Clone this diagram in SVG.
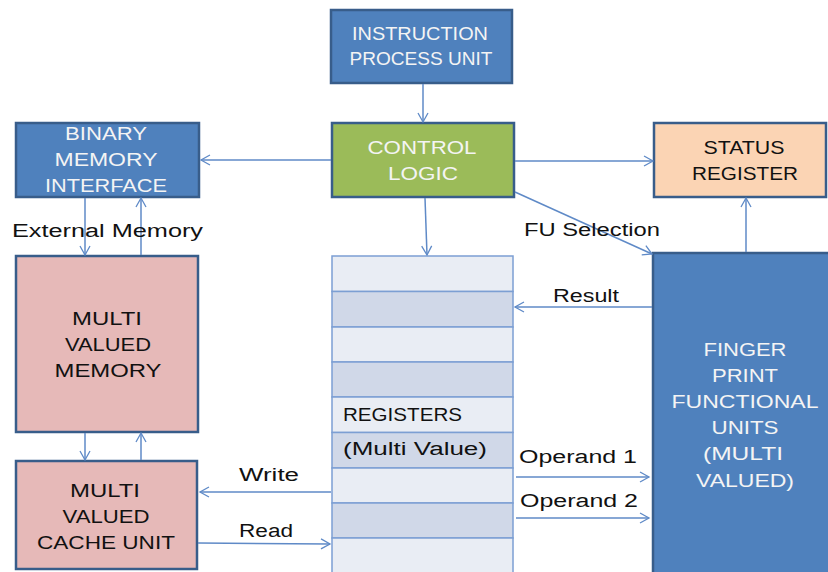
<svg xmlns="http://www.w3.org/2000/svg" width="828" height="572" viewBox="0 0 828 572">
<defs>
<marker id="ah" markerWidth="12" markerHeight="12" refX="10" refY="6" orient="auto" markerUnits="userSpaceOnUse">
<polyline points="1,1 10,6 1,11" fill="none" stroke="#5f8ac7" stroke-width="1.3"/>
</marker>
<style>
.blue{fill:#4f81bd;stroke:#385d8a;stroke-width:2.5}
.green{fill:#9bbb59;stroke:#385d8a;stroke-width:2.5}
.peach{fill:#fbd4b4;stroke:#385d8a;stroke-width:2.5}
.pink{fill:#e6b9b8;stroke:#385d8a;stroke-width:2.5}
.r1{fill:#e9edf4;stroke:#7c9fd3;stroke-width:1.5}
.r2{fill:#d0d8e8;stroke:#7c9fd3;stroke-width:1.5}
.wt{font-family:"Liberation Sans",Arial,sans-serif;font-size:18px;fill:#f4f4f4;text-anchor:middle}
.bt{font-family:"Liberation Sans",Arial,sans-serif;font-size:18px;fill:#111}
.ct{font-family:"Liberation Sans",Arial,sans-serif;font-size:18px;fill:#111;text-anchor:middle}
.con line{stroke:#5f8ac7;stroke-width:1.5;marker-end:url(#ah)}
</style>
</defs>
<rect width="828" height="572" fill="#ffffff"/>

<g id="ipu">
<rect class="blue" x="331" y="10" width="181" height="73"/>
<text class="wt" x="420" y="40" textLength="136" lengthAdjust="spacingAndGlyphs">INSTRUCTION</text>
<text class="wt" x="421" y="65" textLength="143" lengthAdjust="spacingAndGlyphs">PROCESS UNIT</text>
</g>

<g id="bmi">
<rect class="blue" x="16" y="123" width="183" height="74"/>
<text class="wt" x="106" y="140" textLength="82" lengthAdjust="spacingAndGlyphs">BINARY</text>
<text class="wt" x="106" y="166" textLength="103" lengthAdjust="spacingAndGlyphs">MEMORY</text>
<text class="wt" x="106" y="192" textLength="122" lengthAdjust="spacingAndGlyphs">INTERFACE</text>
</g>

<g id="control">
<rect class="green" x="332" y="123" width="182" height="74"/>
<text class="wt" x="422" y="154" textLength="109" lengthAdjust="spacingAndGlyphs">CONTROL</text>
<text class="wt" x="423" y="180" textLength="70" lengthAdjust="spacingAndGlyphs">LOGIC</text>
</g>

<g id="status">
<rect class="peach" x="654" y="123" width="172" height="74"/>
<text class="ct" x="744" y="154" textLength="81" lengthAdjust="spacingAndGlyphs">STATUS</text>
<text class="ct" x="745" y="180" textLength="106" lengthAdjust="spacingAndGlyphs">REGISTER</text>
</g>

<g id="mvm">
<rect class="pink" x="16" y="256" width="182" height="176"/>
<text class="ct" x="107" y="325" textLength="70" lengthAdjust="spacingAndGlyphs">MULTI</text>
<text class="ct" x="108" y="351" textLength="86" lengthAdjust="spacingAndGlyphs">VALUED</text>
<text class="ct" x="108" y="377" textLength="107" lengthAdjust="spacingAndGlyphs">MEMORY</text>
</g>

<g id="cache">
<rect class="pink" x="16" y="461" width="181" height="108"/>
<text class="ct" x="105" y="497" textLength="70" lengthAdjust="spacingAndGlyphs">MULTI</text>
<text class="ct" x="106" y="523" textLength="87" lengthAdjust="spacingAndGlyphs">VALUED</text>
<text class="ct" x="106" y="549" textLength="138" lengthAdjust="spacingAndGlyphs">CACHE UNIT</text>
</g>

<g id="registers">
<rect class="r1" x="332" y="256" width="181" height="35.5"/>
<rect class="r2" x="332" y="291.5" width="181" height="35.5"/>
<rect class="r1" x="332" y="327" width="181" height="35"/>
<rect class="r2" x="332" y="362" width="181" height="35"/>
<rect class="r1" x="332" y="397" width="181" height="35.5"/>
<rect class="r2" x="332" y="432.5" width="181" height="35.5"/>
<rect class="r1" x="332" y="468" width="181" height="35"/>
<rect class="r2" x="332" y="503" width="181" height="35"/>
<rect class="r1" x="332" y="538" width="181" height="40"/>
<text class="bt" x="343" y="421" textLength="119" lengthAdjust="spacingAndGlyphs">REGISTERS</text>
<text class="bt" x="343" y="455" textLength="144" lengthAdjust="spacingAndGlyphs">(Multi Value)</text>
</g>

<g id="fu">
<rect class="blue" x="653" y="253" width="185" height="330"/>
<text class="wt" x="745" y="356" textLength="83" lengthAdjust="spacingAndGlyphs">FINGER</text>
<text class="wt" x="745" y="382" textLength="66" lengthAdjust="spacingAndGlyphs">PRINT</text>
<text class="wt" x="745" y="408" textLength="147" lengthAdjust="spacingAndGlyphs">FUNCTIONAL</text>
<text class="wt" x="745" y="434" textLength="67" lengthAdjust="spacingAndGlyphs">UNITS</text>
<text class="wt" x="743" y="460" textLength="80" lengthAdjust="spacingAndGlyphs">(MULTI</text>
<text class="wt" x="745" y="487" textLength="98" lengthAdjust="spacingAndGlyphs">VALUED)</text>
</g>

<g id="connectors" class="con">
<line x1="423" y1="84" x2="423" y2="122"/>
<line x1="331" y1="160" x2="201" y2="160"/>
<line x1="515" y1="161" x2="653" y2="161"/>
<line x1="425" y1="198" x2="427" y2="255"/>
<line x1="515" y1="192" x2="652" y2="254"/>
<line x1="746" y1="252" x2="746" y2="198"/>
<line x1="85" y1="198" x2="85" y2="255"/>
<line x1="141" y1="255" x2="141" y2="198"/>
<line x1="85" y1="433" x2="85" y2="460"/>
<line x1="141" y1="460" x2="141" y2="433"/>
<line x1="331" y1="492" x2="200" y2="492"/>
<line x1="198" y1="543" x2="330" y2="544"/>
<line x1="652" y1="307" x2="515" y2="307"/>
<line x1="516" y1="477" x2="649" y2="477"/>
<line x1="516" y1="518" x2="649" y2="518"/>
</g>

<g id="labels">
<text class="bt" x="12" y="237" textLength="191" lengthAdjust="spacingAndGlyphs">External Memory</text>
<text class="bt" x="524" y="236" textLength="136" lengthAdjust="spacingAndGlyphs">FU Selection</text>
<text class="bt" x="553" y="302" textLength="66" lengthAdjust="spacingAndGlyphs">Result</text>
<text class="bt" x="239" y="481" textLength="60" lengthAdjust="spacingAndGlyphs">Write</text>
<text class="bt" x="239" y="537" textLength="54" lengthAdjust="spacingAndGlyphs">Read</text>
<text class="bt" x="519" y="463" textLength="118" lengthAdjust="spacingAndGlyphs">Operand 1</text>
<text class="bt" x="520" y="507" textLength="118" lengthAdjust="spacingAndGlyphs">Operand 2</text>
</g>
</svg>
